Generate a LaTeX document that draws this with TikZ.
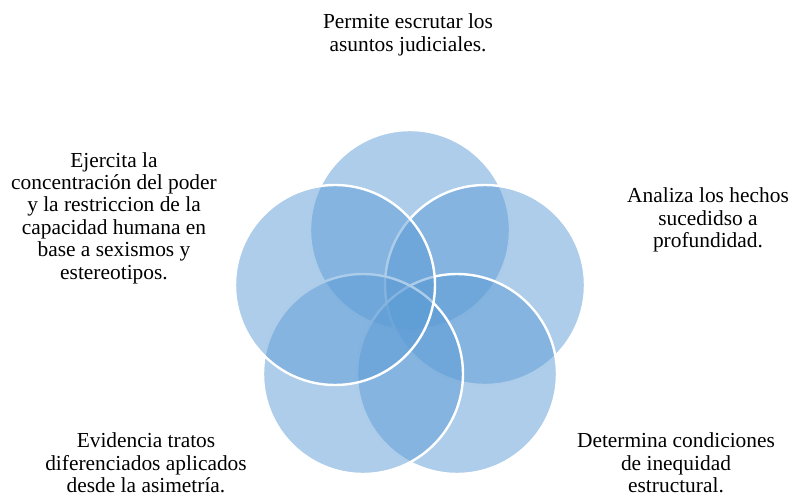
\documentclass[tikz,border=0pt]{standalone}
\usepackage{fontspec}
\setmainfont{Liberation Serif}
\usepackage{tikz}
\usetikzlibrary{shapes,positioning}
\definecolor{vennblue}{RGB}{91,155,213}

\begin{document}
\begin{tikzpicture}[x=1pt,y=-1pt,
	venn/.style={circle, draw=white, line width=2.4pt, fill=vennblue, fill opacity=0.5, minimum size=200pt, inner sep=0pt},
	label/.style={align=center, inner sep=0pt, font=\fontsize{21.4}{22.4}\selectfont}]
				\useasboundingbox (0,0) rectangle (788,497);
				% circles, back to front
				\node[venn] (top) at (410,230) {};
				\node[venn] (right) at (485,285) {};
				\node[venn] (botright) at (457,374) {};
				\node[venn] (botleft) at (363,374) {};
				\node[venn] (left) at (335,285) {};
				% texts
				\node[label] (toptext) at (408,35) {Permite escrutar los\\asuntos judiciales.};
				\node[label] (righttext) at (708,220) {Analiza los hechos\\sucedidso a\\profundidad.};
				\node[label] (botrighttext) at (676,463) {Determina condiciones\\de inequidad\\estructural.};
				\node[label] (botlefttext) at (146,463) {Evidencia tratos\\diferenciados aplicados\\desde la asimetría.};
				\node[label] (lefttext) at (114,218) {Ejercita la\\concentración del poder\\y la restriccion de la\\capacidad humana en\\base a sexismos y\\estereotipos.};
			\end{tikzpicture}
\end{document}
